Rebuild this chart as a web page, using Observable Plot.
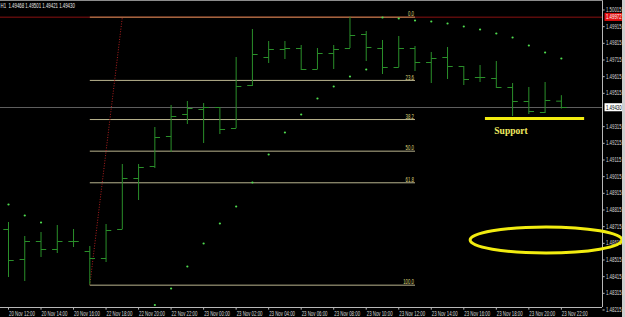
<!DOCTYPE html>
<html><head><meta charset="utf-8">
<script src="https://cdn.jsdelivr.net/npm/d3@7"></script>
<script src="https://cdn.jsdelivr.net/npm/@observablehq/plot@0.6"></script>
<style>
html,body{margin:0;padding:0;background:#000;overflow:hidden}
#wrap{position:relative;width:625px;height:317px}
#topline{position:absolute;left:0;top:0;width:603px;height:1px;background:#8c8c8c}
#strip{position:absolute;right:0;top:0;width:3px;height:317px;background:#cfcfcf}
svg{display:block}
</style></head><body><div id="wrap"><div id="strip"></div></div>
<script>
// ---- data ----
const times = ["20 Nov 12:00","20 Nov 13:00","20 Nov 14:00","20 Nov 15:00","20 Nov 16:00","22 Nov 17:00",
  "22 Nov 18:00","22 Nov 19:00","22 Nov 20:00","22 Nov 21:00","22 Nov 22:00","22 Nov 23:00",
  "23 Nov 00:00","23 Nov 01:00","23 Nov 02:00","23 Nov 03:00","23 Nov 04:00","23 Nov 05:00",
  "23 Nov 06:00","23 Nov 07:00","23 Nov 08:00","23 Nov 09:00","23 Nov 10:00","23 Nov 11:00",
  "23 Nov 12:00","23 Nov 13:00","23 Nov 14:00","23 Nov 15:00","23 Nov 16:00","23 Nov 17:00",
  "23 Nov 18:00","23 Nov 19:00","23 Nov 20:00","23 Nov 21:00","23 Nov 22:00"];
const open  = [1.48698,1.48518,1.48626,1.48578,1.48626,1.48566,1.48524,1.48698,1.49004,1.49076,1.49256,1.49388,
  1.49418,1.49430,1.49304,1.49562,1.49730,1.49778,1.49784,1.49658,1.49754,1.49784,1.49868,1.49784,
  1.49670,1.49784,1.49700,1.49730,1.49676,1.49610,1.49604,1.49550,1.49466,1.49400,1.49468];
const high  = [1.48740,1.48656,1.48680,1.48722,1.48698,1.48596,1.48728,1.49088,1.49088,1.49310,1.49442,1.49466,
  1.49454,1.49430,1.49730,1.49898,1.49826,1.49826,1.49802,1.49784,1.49802,1.49972,1.49886,1.49832,
  1.49856,1.49796,1.49760,1.49790,1.49676,1.49682,1.49706,1.49574,1.49550,1.49580,1.49501];
const low   = [1.48410,1.48386,1.48530,1.48554,1.48590,1.48364,1.48500,1.48698,1.48872,1.49064,1.49160,1.49328,
  1.49214,1.49268,1.49304,1.49556,1.49694,1.49718,1.49652,1.49658,1.49658,1.49784,1.49706,1.49628,
  1.49670,1.49646,1.49574,1.49598,1.49562,1.49580,1.49544,1.49376,1.49388,1.49394,1.49421];
const close = [1.48512,1.48626,1.48578,1.48626,1.48626,1.48524,1.48692,1.49004,1.49070,1.49250,1.49376,1.49424,
  1.49430,1.49298,1.49556,1.49748,1.49778,1.49784,1.49658,1.49754,1.49778,1.49862,1.49790,1.49670,
  1.49784,1.49700,1.49724,1.49676,1.49598,1.49610,1.49550,1.49466,1.49406,1.49472,1.49430];
const sar   = [1.48848,1.48782,1.48740,null,null,null,null,null,null,1.48245,1.48344,1.48476,
  1.48614,1.48734,1.48836,1.48980,1.49148,1.49280,1.49388,1.49484,1.49556,1.49616,1.49658,1.49970,
  1.49964,1.49952,1.49946,1.49934,1.49916,1.49898,1.49874,1.49850,1.49802,1.49760,1.49724];
const priceTicks = [1.50015,1.49915,1.49815,1.49715,1.49615,1.49515,1.49315,1.49215,1.49115,1.49015,
  1.48915,1.48815,1.48715,1.48615,1.48515,1.48415,1.48315,1.48215];
const redLevel = 1.49972;
const fibHigh = 1.49972, fibLow = 1.48364;
const fibStartBar = 5, fibEndBar = 25;
const fibRatios = [0, 0.236, 0.382, 0.5, 0.618, 1];
const fibLabels = ["0.0","23.6","38.2","50.0","61.8","100.0"];
const trendFrom = {bar: 5, price: 1.48364}, trendTo = {bar: 7, price: 1.49972};
const supportLine = {from: 29.3, to: 35.4, price: 1.49364};
const supportText = {bar: 30.9, price: 1.49292, text: "Support"};
const ellipse = {bar: 33.09, price: 1.48632, rBars: 4.67, rPrice: 0.00078};
const symbolTf = "H1";

const xDomain = [-0.492, 36.53];
const yDomain = [1.48230, 1.50072];

const bars = times.map((t, i) => ({i, t, o: open[i], h: high[i], l: low[i], c: close[i]}));
const sarPts = sar.map((v, i) => ({i, v})).filter(d => d.v != null);
const fib = fibRatios.map((r, k) => ({r, label: fibLabels[k], p: fibHigh - r * (fibHigh - fibLow)}));
const last = bars[bars.length - 1];
const xTickIdx = times.map((t, i) => i).filter(i => i % 2 === 0);
const lastClose = last.c;

const green = "#2a8f2a";
const axisCol = "#b8b8b8";
const txt = "#d8d8d8";
const fs = 6.5;

const chart = Plot.plot({
  width: 625, height: 317,
  marginLeft: 0, marginRight: 23, marginTop: 0, marginBottom: 10,
  style: {background: "#000", color: txt, fontFamily: "Liberation Sans, Arial, sans-serif", fontSize: fs + "px"},
  x: {type: "linear", domain: xDomain, axis: null},
  y: {type: "linear", domain: yDomain, axis: null},
  marks: [
    Plot.ruleY([redLevel], {stroke: "#8a1212", strokeWidth: 1}),
    Plot.ruleY([lastClose], {stroke: "#5e5e5e", strokeWidth: 1}),
    Plot.link(fib, {x1: fibStartBar, x2: fibEndBar, y1: "p", y2: "p",
      stroke: d => d.r === 0 ? "#c8945c" : "#b9b48e", strokeWidth: 1}),
    Plot.text(fib, {x: fibEndBar, y: "p", text: "label", textAnchor: "end", dy: -3, dx: -1,
      fill: "#dcd27a", fontSize: fs}),
    Plot.link([{a: trendFrom, b: trendTo}], {x1: d => d.a.bar, y1: d => d.a.price, x2: d => d.b.bar, y2: d => d.b.price,
      stroke: "#b02020", strokeWidth: 1, strokeDasharray: "1,1.6"}),
    Plot.ruleX(bars, {x: "i", y1: "l", y2: "h", stroke: green, strokeWidth: 1}),
    Plot.link(bars, {x1: d => d.i - 0.32, x2: "i", y1: "o", y2: "o", stroke: green, strokeWidth: 1}),
    Plot.link(bars, {x1: "i", x2: d => d.i + 0.32, y1: "c", y2: "c", stroke: green, strokeWidth: 1}),
    Plot.dot(sarPts, {x: "i", y: "v", r: 1.1, fill: "#4fdc4f", stroke: null}),
    Plot.link([supportLine], {x1: "from", x2: "to", y1: "price", y2: "price", stroke: "#f2ec10", strokeWidth: 3}),
    Plot.text([supportText], {x: "bar", y: "price", text: "text", fill: "#f0ea60", fontSize: 9.5,
      fontWeight: "bold", fontFamily: "Liberation Serif, serif"}),
    Plot.ruleX([xDomain[1]], {stroke: axisCol}),
    Plot.ruleY([yDomain[0]], {stroke: axisCol}),
    Plot.link(xTickIdx, {x1: d => d, x2: d => d, y1: yDomain[0], y2: yDomain[0] - 0.00013, stroke: axisCol}),
    Plot.text(xTickIdx, {x: d => d, y: yDomain[0], text: d => times[d], textAnchor: "start", dy: 6, dx: 0.5,
      fill: txt, fontSize: fs}),
    Plot.link(priceTicks, {x1: xDomain[1], x2: xDomain[1] + 0.13, y1: d => d, y2: d => d, stroke: axisCol}),
    Plot.text(priceTicks, {x: xDomain[1], y: d => d, text: d => d.toFixed(5), textAnchor: "start", dx: 3.5,
      fill: txt, fontSize: fs}),
    Plot.text([redLevel], {x: xDomain[1], y: d => d, text: d => d.toFixed(5), textAnchor: "start", dx: 3.5,
      fill: "#ffffff", fontSize: fs}),
    Plot.text([lastClose], {x: xDomain[1], y: d => d, text: d => d.toFixed(5), textAnchor: "start", dx: 3.5,
      fill: "#000000", fontSize: fs}),
    Plot.text([symbolTf + "  " + [last.o, last.h, last.l, last.c].map(v => v.toFixed(5)).join(" ")],
      {frameAnchor: "top-left", dx: 0, dy: 3, fill: "#e8e8e8", fontSize: fs})
  ]
});
const wrap = document.getElementById("wrap");
wrap.insertBefore(chart, wrap.firstChild);
const tl = document.createElement("div"); tl.id = "topline"; wrap.appendChild(tl);

// compress the small MetaTrader-like text horizontally (scale about each text's anchor)
d3.select(chart).selectAll("text").each(function() {
  if (this.textContent === supportText.text) return;
  let t = this.getAttribute("transform");
  if (!t) {
    const x = +this.getAttribute("x") || 0, y = +this.getAttribute("y") || 0;
    this.removeAttribute("x"); this.removeAttribute("y");
    t = `translate(${x},${y})`;
  }
  this.setAttribute("transform", t + " scale(0.67,1)");
});
// boxes behind price labels
const svgRect = chart.getBoundingClientRect();
function boxFor(value, fill) {
  const s = value.toFixed(5);
  d3.select(chart).selectAll("g").filter(function() {
    const f = this.getAttribute("fill");
    return (f === "#ffffff" || f === "#000000") && this.textContent === s;
  }).each(function() {
    const r = this.querySelector("text").getBoundingClientRect();
    d3.select(chart).insert("rect", () => this)
      .attr("x", r.x - svgRect.x - 1.5).attr("y", r.y - svgRect.y - 0.5)
      .attr("width", r.width + 3).attr("height", r.height + 1)
      .attr("fill", fill);
  });
}
boxFor(redLevel, "#e01010");
boxFor(lastClose, "#ffffff");

// ellipse annotation
const sx = chart.scale("x"), sy = chart.scale("y");
const cx = sx.apply(ellipse.bar), cy = sy.apply(ellipse.price);
d3.select(chart).append("ellipse")
  .attr("cx", cx).attr("cy", cy)
  .attr("rx", sx.apply(ellipse.bar + ellipse.rBars) - cx)
  .attr("ry", cy - sy.apply(ellipse.price + ellipse.rPrice))
  .attr("fill", "none").attr("stroke", "#f2ec10").attr("stroke-width", 3);
</script></body></html>
